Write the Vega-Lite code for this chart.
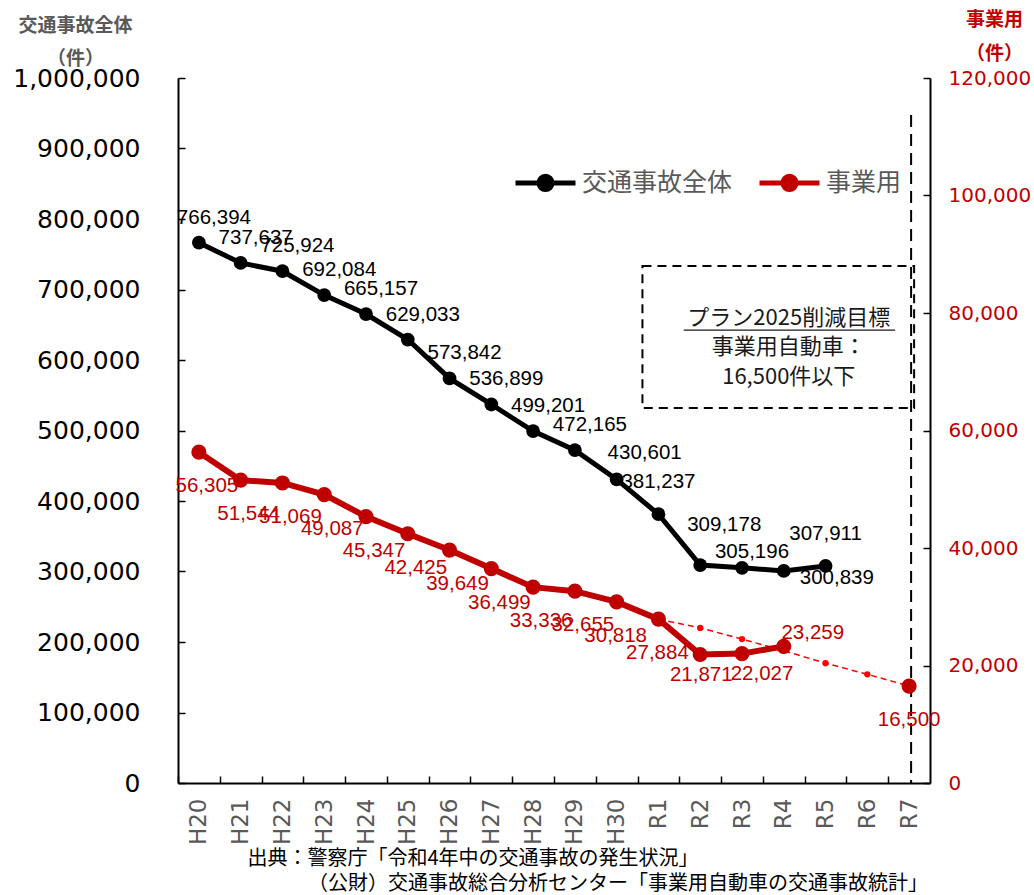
{
  "$schema": "https://vega.github.io/schema/vega-lite/v6.json",
  "width": 752,
  "height": 705,
  "autosize": {"type": "none"},
  "padding": {"left": 178, "top": 78, "right": 104, "bottom": 112},
  "background": "white",
  "config": {"view": {"stroke": null}, "font": "Noto Sans CJK JP"},
  "datasets": {
    "main": [
      {"year": "H20", "total": 766394, "biz": 56305},
      {"year": "H21", "total": 737637, "biz": 51544},
      {"year": "H22", "total": 725924, "biz": 51069},
      {"year": "H23", "total": 692084, "biz": 49087},
      {"year": "H24", "total": 665157, "biz": 45347},
      {"year": "H25", "total": 629033, "biz": 42425},
      {"year": "H26", "total": 573842, "biz": 39649},
      {"year": "H27", "total": 536899, "biz": 36499},
      {"year": "H28", "total": 499201, "biz": 33336},
      {"year": "H29", "total": 472165, "biz": 32655},
      {"year": "H30", "total": 430601, "biz": 30818},
      {"year": "R1", "total": 381237, "biz": 27884},
      {"year": "R2", "total": 309178, "biz": 21871},
      {"year": "R3", "total": 305196, "biz": 22027},
      {"year": "R4", "total": 300839, "biz": 23259},
      {"year": "R5", "total": 307911, "biz": null}
    ],
    "target": [
      {"year": "R1", "biz": 27884},
      {"year": "R2", "biz": 26400},
      {"year": "R3", "biz": 24500},
      {"year": "R4", "biz": 22500},
      {"year": "R5", "biz": 20400},
      {"year": "R6", "biz": 18500},
      {"year": "R7", "biz": 16500}
    ],
    "box": [
      {"year": "R1", "year_end": "R7", "top": 88000, "bottom": 63830}
    ],
    "deadline": [
      {"year": "R7", "top": 113700, "bottom": 0}
    ],
    "note": [
      {"year": "R4", "year_end": "R7", "first_line": 79150, "underline": 77100}
    ]
  },
  "title": {
    "text": "（公財）交通事故総合分析センター「事業用自動車の交通事故統計」",
    "orient": "bottom",
    "anchor": "start",
    "frame": "group",
    "dx": 130,
    "offset": 6,
    "fontSize": 20,
    "fontWeight": "normal",
    "color": "#000000",
    "font": "Noto Sans CJK JP"
  },
  "encoding": {
    "x": {
      "field": "year",
      "type": "nominal",
      "sort": null,
      "scale": {
        "type": "point",
        "padding": 0.5,
        "domain": ["H20", "H21", "H22", "H23", "H24", "H25", "H26", "H27", "H28", "H29", "H30", "R1", "R2", "R3", "R4", "R5", "R6", "R7"]
      },
      "axis": {
        "title": "出典：警察庁「令和4年中の交通事故の発生状況」",
        "titleX": 69,
        "titleY": 75,
        "titleAlign": "left",
        "titleAnchor": "start",
        "titleBaseline": "middle",
        "titleFontSize": 20,
        "titleFontWeight": "normal",
        "titleColor": "#000000",
        "titleFont": "Noto Sans CJK JP",
        "labelAngle": -90,
        "labelFont": "DejaVu Sans",
        "labelFontSize": 23,
        "labelColor": "#595959",
        "labelPadding": 22,
        "tickSize": -7,
        "tickOffset": -20.9,
        "labelOffset": 20.9,
        "tickColor": "#000000",
        "tickWidth": 1.5,
        "domainColor": "#000000",
        "domainWidth": 2,
        "grid": false
      }
    }
  },
  "layer": [
    {
      "data": {"name": "main"},
      "encoding": {
        "y": {
          "field": "total",
          "type": "quantitative",
          "scale": {"domain": [0, 1000000], "nice": false, "zero": true},
          "axis": {
            "orient": "left",
            "title": ["交通事故全体", "（件）"],
            "titleAngle": 0,
            "titleX": -103,
            "titleY": -62,
            "titleAlign": "center",
            "titleBaseline": "top",
            "titleFontSize": 19,
            "titleFontWeight": "bold",
            "titleColor": "#595959",
            "titleLineHeight": 33,
            "titleFont": "Noto Sans CJK JP",
            "values": [0, 100000, 200000, 300000, 400000, 500000, 600000, 700000, 800000, 900000, 1000000],
            "format": ",.0f",
            "labelFont": "DejaVu Sans",
            "labelFontSize": 25,
            "labelColor": "#000000",
            "labelPadding": 45,
            "tickSize": -7,
            "tickColor": "#000000",
            "tickWidth": 1.5,
            "domainColor": "#000000",
            "domainWidth": 2,
            "grid": false
          }
        }
      },
      "layer": [
        {
          "mark": {"type": "line", "strokeWidth": 5},
          "encoding": {
            "color": {
              "datum": "交通事故全体",
              "type": "nominal",
              "scale": {"domain": ["交通事故全体", "事業用"], "range": ["#000000", "#C00000"]},
              "legend": {
                "orient": "none",
                "legendX": 335,
                "legendY": 72,
                "direction": "horizontal",
                "title": null,
                "padding": 0,
                "symbolType": "M-1,0L1,0M0.22,0A0.22,0.22,0,1,1,-0.22,0A0.22,0.22,0,1,1,0.22,0Z",
                "symbolSize": 3600,
                "symbolStrokeWidth": 5,
                "symbolOpacity": 1,
                "labelFontSize": 25,
                "labelFont": "Noto Sans CJK JP",
                "labelColor": "#595959",
                "labelOffset": 4,
                "columnPadding": 16,
                "encode": {
                  "symbols": {
                    "update": {
                      "fill": {"field": "value", "scale": "color"},
                      "stroke": {"field": "value", "scale": "color"}
                    }
                  }
                }
              }
            }
          }
        },
        {
          "mark": {"type": "point", "filled": true, "size": 190, "opacity": 1, "shape": "circle"},
          "encoding": {"color": {"datum": "交通事故全体", "type": "nominal"}}
        },
        {
          "transform": [{"filter": {"field": "year", "oneOf": ["H20", "H21", "H22", "H23", "H24", "H25", "H26", "H27", "H28", "H29"]}}],
          "mark": {"type": "text", "font": "Liberation Sans", "fontSize": 20.5, "color": "#000000", "dx": 15, "dy": -25, "align": "center", "baseline": "middle"},
          "encoding": {"text": {"field": "total", "type": "quantitative", "format": ","}}
        },
        {
          "transform": [{"filter": {"field": "year", "equal": "H30"}}],
          "mark": {"type": "text", "font": "Liberation Sans", "fontSize": 20.5, "color": "#000000", "dx": 28, "dy": -26, "align": "center", "baseline": "middle"},
          "encoding": {"text": {"field": "total", "type": "quantitative", "format": ","}}
        },
        {
          "transform": [{"filter": {"field": "year", "oneOf": ["R1", "R5"]}}],
          "mark": {"type": "text", "font": "Liberation Sans", "fontSize": 20.5, "color": "#000000", "dx": 0, "dy": -32, "align": "center", "baseline": "middle"},
          "encoding": {"text": {"field": "total", "type": "quantitative", "format": ","}}
        },
        {
          "transform": [{"filter": {"field": "year", "equal": "R2"}}],
          "mark": {"type": "text", "font": "Liberation Sans", "fontSize": 20.5, "color": "#000000", "dx": 24, "dy": -40, "align": "center", "baseline": "middle"},
          "encoding": {"text": {"field": "total", "type": "quantitative", "format": ","}}
        },
        {
          "transform": [{"filter": {"field": "year", "equal": "R3"}}],
          "mark": {"type": "text", "font": "Liberation Sans", "fontSize": 20.5, "color": "#000000", "dx": 10, "dy": -16, "align": "center", "baseline": "middle"},
          "encoding": {"text": {"field": "total", "type": "quantitative", "format": ","}}
        },
        {
          "transform": [{"filter": {"field": "year", "equal": "R4"}}],
          "mark": {"type": "text", "font": "Liberation Sans", "fontSize": 20.5, "color": "#000000", "dx": 53, "dy": 7, "align": "center", "baseline": "middle"},
          "encoding": {"text": {"field": "total", "type": "quantitative", "format": ","}}
        }
      ]
    },
    {
      "encoding": {
        "y": {
          "field": "biz",
          "type": "quantitative",
          "scale": {"domain": [0, 120000], "nice": false, "zero": true},
          "axis": {
            "orient": "right",
            "title": ["事業用", "（件）"],
            "titleAngle": 0,
            "titleX": 64,
            "titleY": -68,
            "titleAlign": "center",
            "titleBaseline": "top",
            "titleFontSize": 19,
            "titleFontWeight": "bold",
            "titleColor": "#C00000",
            "titleLineHeight": 34,
            "titleFont": "Noto Sans CJK JP",
            "values": [0, 20000, 40000, 60000, 80000, 100000, 120000],
            "format": ",.0f",
            "labelFont": "DejaVu Sans",
            "labelFontSize": 20,
            "labelColor": "#C00000",
            "labelPadding": 25,
            "tickSize": -7,
            "tickColor": "#000000",
            "tickWidth": 1.5,
            "domainColor": "#000000",
            "domainWidth": 2,
            "grid": false
          }
        }
      },
      "layer": [
        {
          "data": {"name": "box"},
          "mark": {"type": "rect", "fill": "#ffffff", "fillOpacity": 0, "stroke": "#000000", "strokeWidth": 2, "strokeDash": [9, 6], "xOffset": -16, "x2Offset": 5},
          "encoding": {
            "x2": {"field": "year_end"},
            "y": {"field": "top", "type": "quantitative"},
            "y2": {"field": "bottom"}
          }
        },
        {
          "data": {"name": "deadline"},
          "mark": {"type": "rule", "stroke": "#000000", "strokeWidth": 2, "strokeDash": [12, 7], "xOffset": 2},
          "encoding": {
            "y": {"field": "top", "type": "quantitative"},
            "y2": {"field": "bottom"}
          }
        },
        {
          "data": {"name": "note"},
          "mark": {
            "type": "text",
            "text": ["プラン2025削減目標", "事業用自動車：", "16,500件以下"],
            "font": "Noto Sans CJK JP",
            "fontSize": 22,
            "lineHeight": 29.5,
            "color": "#1a1a1a",
            "align": "center",
            "baseline": "middle",
            "dx": 5
          },
          "encoding": {
            "y": {"field": "first_line", "type": "quantitative"}
          }
        },
        {
          "data": {"name": "note"},
          "mark": {"type": "rule", "stroke": "#1a1a1a", "strokeWidth": 1.3, "xOffset": -100, "x2Offset": -14},
          "encoding": {
            "x2": {"field": "year_end"},
            "y": {"field": "underline", "type": "quantitative"}
          }
        },
        {
          "data": {"name": "target"},
          "mark": {"type": "line", "stroke": "#FF0000", "strokeWidth": 1.5, "strokeDash": [6, 4]}
        },
        {
          "data": {"name": "target"},
          "transform": [{"filter": {"field": "year", "oneOf": ["R2", "R3", "R4", "R5", "R6"]}}],
          "mark": {"type": "point", "filled": true, "size": 40, "opacity": 1, "color": "#FF0000", "shape": "circle"}
        },
        {
          "data": {"name": "target"},
          "transform": [{"filter": {"field": "year", "equal": "R7"}}],
          "mark": {"type": "point", "filled": true, "size": 230, "opacity": 1, "color": "#C00000", "shape": "circle"}
        },
        {
          "data": {"name": "target"},
          "transform": [{"filter": {"field": "year", "equal": "R7"}}],
          "mark": {"type": "text", "font": "Liberation Sans", "fontSize": 20.5, "color": "#C00000", "dx": 0, "dy": 34, "align": "center", "baseline": "middle"},
          "encoding": {"text": {"field": "biz", "type": "quantitative", "format": ","}}
        },
        {
          "data": {"name": "main"},
          "transform": [{"filter": "isValid(datum.biz)"}],
          "mark": {"type": "line", "strokeWidth": 6},
          "encoding": {"color": {"datum": "事業用", "type": "nominal"}}
        },
        {
          "data": {"name": "main"},
          "transform": [{"filter": "isValid(datum.biz)"}],
          "mark": {"type": "point", "filled": true, "size": 230, "opacity": 1, "shape": "circle"},
          "encoding": {"color": {"datum": "事業用", "type": "nominal"}}
        },
        {
          "data": {"name": "main"},
          "transform": [{"filter": {"field": "year", "oneOf": ["H20", "H21", "H22", "H23", "H24", "H25", "H26", "H27", "H28", "H29"]}}],
          "mark": {"type": "text", "font": "Liberation Sans", "fontSize": 20.5, "color": "#C00000", "dx": 8, "dy": 34, "align": "center", "baseline": "middle"},
          "encoding": {"text": {"field": "biz", "type": "quantitative", "format": ","}}
        },
        {
          "data": {"name": "main"},
          "transform": [{"filter": {"field": "year", "oneOf": ["H30", "R1"]}}],
          "mark": {"type": "text", "font": "Liberation Sans", "fontSize": 20.5, "color": "#C00000", "dx": -1, "dy": 34, "align": "center", "baseline": "middle"},
          "encoding": {"text": {"field": "biz", "type": "quantitative", "format": ","}}
        },
        {
          "data": {"name": "main"},
          "transform": [{"filter": {"field": "year", "equal": "R2"}}],
          "mark": {"type": "text", "font": "Liberation Sans", "fontSize": 20.5, "color": "#C00000", "dx": 1, "dy": 20, "align": "center", "baseline": "middle"},
          "encoding": {"text": {"field": "biz", "type": "quantitative", "format": ","}}
        },
        {
          "data": {"name": "main"},
          "transform": [{"filter": {"field": "year", "equal": "R3"}}],
          "mark": {"type": "text", "font": "Liberation Sans", "fontSize": 20.5, "color": "#C00000", "dx": 20, "dy": 20, "align": "center", "baseline": "middle"},
          "encoding": {"text": {"field": "biz", "type": "quantitative", "format": ","}}
        },
        {
          "data": {"name": "main"},
          "transform": [{"filter": {"field": "year", "equal": "R4"}}],
          "mark": {"type": "text", "font": "Liberation Sans", "fontSize": 20.5, "color": "#C00000", "dx": 29, "dy": -13, "align": "center", "baseline": "middle"},
          "encoding": {"text": {"field": "biz", "type": "quantitative", "format": ","}}
        }
      ]
    }
  ],
  "resolve": {"scale": {"y": "independent"}}
}
